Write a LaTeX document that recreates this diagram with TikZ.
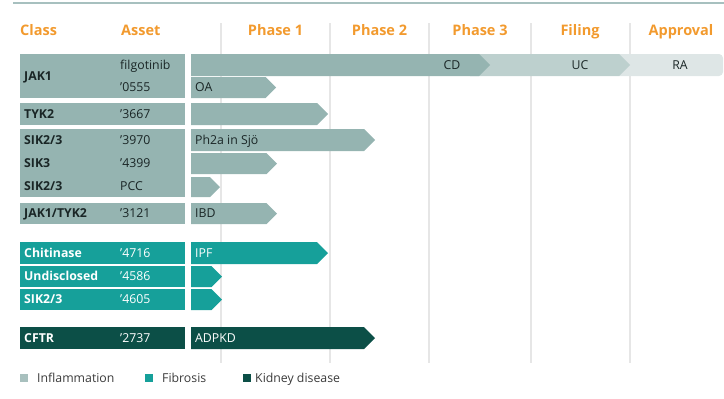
\documentclass[tikz,border=0pt]{standalone}
\usepackage{fontspec}
\setmainfont{Open Sans}
\definecolor{infl}{HTML}{95B4B1}
\definecolor{infllg}{HTML}{A8C0BE}
\definecolor{ucseg}{HTML}{BDD0CE}
\definecolor{raseg}{HTML}{DEE6E6}
\definecolor{fib}{HTML}{16A09A}
\definecolor{kid}{HTML}{0C4F47}
\definecolor{hdrorange}{HTML}{F29A2E}
\definecolor{ink}{HTML}{1A2626}
\definecolor{gridc}{HTML}{E6E6E6}
\definecolor{topline}{HTML}{A7C0BF}
\definecolor{legtext}{HTML}{3A3A3A}
\tikzset{
  hdr/.style={font=\fontsize{14.5}{16}\selectfont\bfseries, text=hdrorange, inner sep=0pt, text height=10.4pt, text depth=0pt},
  cls/.style={font=\fontsize{12.3}{14}\selectfont\bfseries, anchor=west, inner sep=0pt, text height=8.8pt, text depth=0pt},
  ast/.style={font=\fontsize{12.3}{14}\selectfont, anchor=west, inner sep=0pt, text height=8.8pt, text depth=0pt},
  lbl/.style={font=\fontsize{12.3}{14}\selectfont, inner sep=0pt, text height=8.8pt, text depth=0pt},
  classbox/.style={anchor=north west, inner sep=0pt, minimum width=165pt, draw=none},
  legsq/.style={anchor=north west, inner sep=0pt, minimum width=8pt, minimum height=8pt},
  legtxt/.style={font=\fontsize{12.3}{14}\selectfont, text=legtext, anchor=west, inner sep=0pt, text height=8.8pt, text depth=0pt},
  gridline/.style={draw=gridc, line width=1.3pt}
}
% chevron: name, top y, bottom y, tip x, fill, text colour, label
\newcommand\chevbar[7]{%
  \fill[#5] (191,#2) -- ({#4-(#3-#2)/2},#2) -- (#4,{(#2+#3)/2}) -- ({#4-(#3-#2)/2},#3) -- (191,#3) -- cycle;
  \node[lbl, anchor=west, text=#6] (#1) at (195,{(#2+#3)/2}) {#7};}
\begin{document}
\begin{tikzpicture}[x=1pt,y=-1pt]
\useasboundingbox (0,0) rectangle (724,399);
% top rule
\draw[topline, line width=2.5pt] (13,3) -- (724,3);
% grid lines
\foreach \gx in {221,330,429,531,630} \draw[gridline] (\gx,23) -- (\gx,363);
% headers
\node[hdr, anchor=west] (hclass) at (20,30) {Class};
\node[hdr, anchor=west] (hasset) at (121,30) {Asset};
\node[hdr] (hp1) at (275.5,30) {Phase 1};
\node[hdr] (hp2) at (379.5,30) {Phase 2};
\node[hdr] (hp3) at (480,30) {Phase 3};
\node[hdr] (hfil) at (580,30) {Filing};
\node[hdr] (happ) at (681,30) {Approval};

% ---- Inflammation ----
\node[classbox, fill=infl, minimum height=44pt] (bjak1) at (20,54) {};
\node[cls, text=ink] (cjak1) at (24,76) {JAK1};
\node[ast, text=ink] (afil) at (120,65) {filgotinib};
\node[ast, text=ink] (a0555) at (120,87.5) {’0555};
% filgotinib long bar
\fill[raseg, rounded corners=4pt] (615,54) -- (723,54) -- (723,76) -- (615,76) -- cycle;
\fill[ucseg] (470,54) -- (619,54) -- (630,65) -- (619,76) -- (470,76) -- cycle;
\chevbar{bfil}{54}{76}{490}{infl}{ink}{}
\node[lbl, text=ink] (lcd) at (452,65) {CD};
\node[lbl, text=ink] (luc) at (580,65) {UC};
\node[lbl, text=ink] (lra) at (680,65) {RA};
\chevbar{boa}{77}{98}{276}{infl}{ink}{OA}

\node[classbox, fill=infl, minimum height=22pt] (btyk2) at (20,103) {};
\node[cls, text=ink] (ctyk2) at (24,114) {TYK2};
\node[ast, text=ink] (a3667) at (120,114) {’3667};
\chevbar{btyk}{103}{125}{328}{infl}{ink}{}

\node[classbox, fill=infl, minimum height=68pt] (bsik) at (20,129) {};
\node[cls, text=ink] (csik1) at (24,140) {SIK2/3};
\node[ast, text=ink] (a3970) at (120,140) {’3970};
\node[cls, text=ink] (csik2) at (24,163.5) {SIK3};
\node[ast, text=ink] (a4399) at (120,163.5) {’4399};
\node[cls, text=ink] (csik3) at (24,186.5) {SIK2/3};
\node[ast, text=ink] (apcc) at (120,186.5) {PCC};
\chevbar{bsjo}{129}{151}{375}{infl}{ink}{Ph2a in Sjö}
\chevbar{b4399}{153}{174}{277}{infl}{ink}{}
\chevbar{bpcc}{177}{197}{220}{infl}{ink}{}

\node[classbox, fill=infl, minimum height=21pt] (bjt) at (20,203) {};
\node[cls, text=ink] (cjt) at (24,213.5) {JAK1/TYK2};
\node[ast, text=ink] (a3121) at (120,213.5) {’3121};
\chevbar{bibd}{203}{224}{277}{infl}{ink}{IBD}

% ---- Fibrosis ----
\node[classbox, fill=fib, minimum height=22pt] (bchi) at (20,242) {};
\node[cls, text=white] (cchi) at (24,253) {Chitinase};
\node[ast, text=white] (a4716) at (120,253) {’4716};
\chevbar{bipf}{242}{264}{328}{fib}{white}{IPF}

\node[classbox, fill=fib, minimum height=21pt] (bund) at (20,266) {};
\node[cls, text=white] (cund) at (24,276.5) {Undisclosed};
\node[ast, text=white] (a4586) at (120,276.5) {’4586};
\chevbar{b4586}{266}{287}{222}{fib}{white}{}

\node[classbox, fill=fib, minimum height=21pt] (bsikf) at (20,289) {};
\node[cls, text=white] (csikf) at (24,299.5) {SIK2/3};
\node[ast, text=white] (a4605) at (120,299.5) {’4605};
\chevbar{b4605}{289}{310}{222}{fib}{white}{}

% ---- Kidney ----
\node[classbox, fill=kid, minimum height=22pt] (bcftr) at (20,327) {};
\node[cls, text=white] (ccftr) at (24,338) {CFTR};
\node[ast, text=white] (a2737) at (120,338) {’2737};
\chevbar{badpkd}{327}{349}{375}{kid}{white}{ADPKD}

% ---- Legend ----
\node[legsq, fill=infllg] (sqinf) at (20,374) {};
\node[legtxt] (tinf) at (37,378) {Inflammation};
\node[legsq, fill=fib] (sqfib) at (145,374) {};
\node[legtxt] (tfib) at (162,378) {Fibrosis};
\node[legsq, fill=kid] (sqkid) at (243,374) {};
\node[legtxt] (tkid) at (255,378) {Kidney disease};
\end{tikzpicture}
\end{document}
